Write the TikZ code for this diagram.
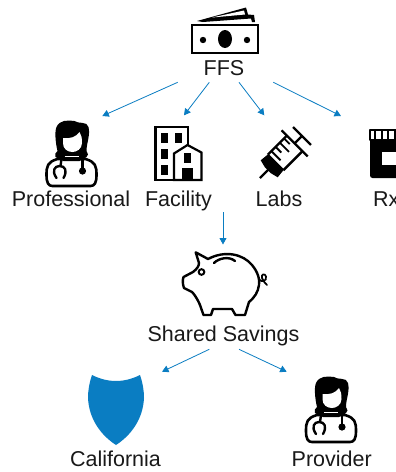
\documentclass[tikz,border=0pt]{standalone}
\usepackage{fontspec}
\setmainfont{Liberation Sans}
\usetikzlibrary{arrows.meta}
\definecolor{planblue}{HTML}{0A7DC2}
\tikzset{
    label text/.style={anchor=base, inner sep=0pt, font=\fontsize{21.5}{25}\selectfont, text=black!90},
    flow/.style={-{Triangle[length=6.5pt,width=7pt]}, draw=planblue, line width=0.8pt},
    icon line/.style={draw=black, line width=2.4pt, line join=round, line cap=round},
    doctor/.pic={
        \draw[icon line, line width=2.6pt, fill=white] (-14,38) .. controls (-24,41) and (-25,45) .. (-25,54) .. controls (-25,62) and (-23,65) .. (-19,65) -- (19,65) .. controls (23,65) and (25,62) .. (25,54) .. controls (25,45) and (24,41) .. (14,38) -- cycle;
        \fill[black] (-14,30) .. controls (-16,22) and (-17,10) .. (-15,6) .. controls (-12,-1) and (-4,-1) .. (3,0) .. controls (6,3) and (16,0) .. (17,6) .. controls (19,14) and (15,22) .. (15,30) .. controls (17,32) and (17,35) .. (15,36) .. controls (12,38) and (10,39) .. (8,40) -- (-8,40) .. controls (-10,39) and (-13,38) .. (-16,36) .. controls (-17,34) and (-16,31) .. (-14,30) -- cycle;
        \fill[white] (-8.5,17) .. controls (-2,18) and (5,16) .. (8,11) .. controls (10,14) and (10.5,17) .. (10.5,22) .. controls (10.5,28) and (5,31) .. (1,31) .. controls (-4,31) and (-8.5,28) .. (-8.5,22) -- cycle;
        \draw[white, line width=1pt] (-7,35) -- (7,35);
        \draw[icon line, fill=none] (-10,38) -- (-11,45) (-15,57) .. controls (-20,50) and (-17,45) .. (-12,45) .. controls (-6,45) and (-4,50) .. (-8,57);
        \draw[icon line] (11,38) -- (11,48);
        \fill[black] (11,50) circle (3.6);
    }
}

\begin{document}
\begin{tikzpicture}[x=1pt, y=-1pt]
    \clip (0,0) rectangle (396,472);
    \fill[white] (0,0) rectangle (396,472);

    \node[label text] (FFS) at (224,75) {FFS};
    \node[label text] (Professional) at (71,206.7) {Professional};
    \node[label text] (Facility) at (178.5,206.7) {Facility};
    \node[label text] (Labs) at (279,206.7) {Labs};
    \node[label text, anchor=base west] (Rx) at (373,206.7) {Rx};
    \node[label text] (SharedSavings) at (223.5,341.7) {Shared Savings};
    \node[label text] (California) at (115.5,466.7) {California};
    \node[label text] (Provider) at (331.7,466.7) {Provider};

    \coordinate (FFSa) at (177.7,82.3);
    \coordinate (FFSb) at (209.3,82.3);
    \coordinate (FFSc) at (239,82.3);
    \coordinate (FFSd) at (273.3,82.3);
    \coordinate (toProfessional) at (102.3,116);
    \coordinate (toFacility) at (184,115.3);
    \coordinate (toLabs) at (264.3,115.3);
    \coordinate (toRx) at (341,116);
    \coordinate (FacilityOut) at (223,212);
    \coordinate (toSavings) at (223,244.5);
    \coordinate (SavingsA) at (209.3,349.3);
    \coordinate (SavingsB) at (239,349.3);
    \coordinate (toCalifornia) at (162,371.7);
    \coordinate (toProvider) at (286.7,371.7);

    \draw[flow] (FFSa) -- (toProfessional);
    \draw[flow] (FFSb) -- (toFacility);
    \draw[flow] (FFSc) -- (toLabs);
    \draw[flow] (FFSd) -- (toRx);
    \draw[flow] (FacilityOut) -- (toSavings);
    \draw[flow] (SavingsA) -- (toCalifornia);
    \draw[flow] (SavingsB) -- (toProvider);

    % money
    \draw[icon line, line cap=butt, line join=miter] (192,25) rectangle (258,53);
    \fill[black] (225,39) ellipse (7 and 9);
    \fill[black] (203,40) circle (3.2);
    \fill[black] (247,40) circle (3.2);
    \fill[black] (197,21) -- (246,7.5) -- (248,14.5) -- (254,15) -- (255,22) -- (252,22) -- (251,18.5) -- (203,22) -- cycle;
    \fill[white] (212,17.5) -- (244,10.5) -- (245,14.5) -- cycle;

    % doctors
    \pic at (71.5,121) {doctor};
    \pic at (331,377) {doctor};

    % building
    \draw[icon line, line cap=butt, line join=miter, line width=2.2pt] (155.5,127) rectangle (188,180);
    \fill[black] (161,133) rectangle (168,143);
    \fill[black] (175,133) rectangle (182,143);
    \fill[black] (161,149) rectangle (168,159);
    \fill[black] (161,165) rectangle (168,175);
    \draw[icon line, line cap=butt, line join=miter, line width=2.2pt, fill=white] (174,180) -- (174,153.5) -- (187.5,145) -- (201.5,152.5) -- (201.5,180) -- cycle;
    \fill[black] (184,153) rectangle (191,163);
    \fill[black] (182,168) rectangle (193,180);

    % syringe
    \begin{scope}[shift={(260,178)}, x={(0.707pt,0.707pt)}, y={(0.707pt,-0.707pt)}]
        \draw[icon line, line cap=butt] (0,0) -- (12,0);
        \fill[black] (11,-4) -- (13,-12) -- (23,-11) -- (23,11) -- (13,12) -- (11,4) -- cycle;
        \draw[icon line, line cap=butt, line join=miter] (22,-11) -- (49,-11) (22,11) -- (49,11);
        \draw[icon line, line cap=butt] (49,-18.4) -- (49,18.4);
        \draw[icon line, line cap=butt] (49,0) -- (59.4,0);
        \draw[icon line, line cap=butt] (59.4,-12.7) -- (59.4,12.7);
        \draw[icon line, line cap=butt, line width=1.9pt] (27,-11) -- (27,2) (33,-11) -- (33,-3) (39,-11) -- (39,2) (45,-11) -- (45,-3);
    \end{scope}

    % bottle
    \fill[black, rounded corners=2.5pt] (370,139) rectangle (405,178);
    \fill[white] (381.7,152) rectangle (405,165);
    \draw[icon line, line cap=butt, line width=2pt, fill=white] (369.5,130) rectangle (405,140);
    \draw[black, line width=1.7pt] (375,130) -- (375,140) (381.7,130) -- (381.7,140) (388.3,130) -- (388.3,140) (395,130) -- (395,140);

    % piggy bank
    \draw[icon line] (195.7,252.3) -- (208,259) .. controls (225,250) and (243,254) .. (252,265) .. controls (258,272) and (260,280) .. (259,285) .. controls (258,292) and (255,297) .. (249,302) -- (245,315) -- (235.5,315) -- (232,309) -- (213,309) -- (211,315) -- (203.5,315) -- (200,305) .. controls (197,298) and (194,294) .. (192,292) -- (184,288) .. controls (182.5,284) and (182.5,280) .. (183.5,277) -- (193,272) .. controls (197,269) and (199,266) .. (199,263) -- cycle;
    \draw[icon line] (214,263) .. controls (219,258) and (229,256) .. (235,261);
    \draw[black, line width=2pt] (201.5,272) circle (2.8);
    \draw[black, line width=1.7pt, line cap=round] (258.5,279) .. controls (262,283) and (267,281) .. (266,276.5) .. controls (265,273) and (261,274) .. (262,278) .. controls (263,281) and (265,283) .. (267,285);

    % shield
    \fill[planblue] (92,375) .. controls (100,379) and (108,381) .. (116,381) .. controls (124,381) and (132,379) .. (140,375) .. controls (143,384) and (144,391) .. (144,398) .. controls (143,420) and (130,436) .. (116,445) .. controls (102,436) and (89,420) .. (88,398) .. controls (88,391) and (89,384) .. (92,375) -- cycle;

\end{tikzpicture}
\end{document}
